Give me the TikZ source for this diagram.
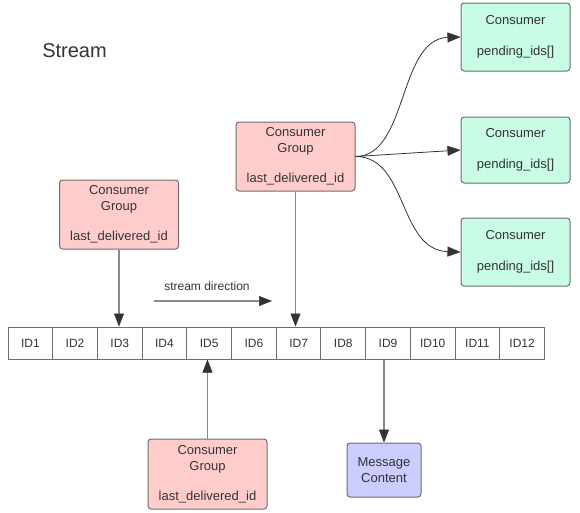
\documentclass[tikz,border=0pt]{standalone}
\usepackage{fontspec}
\setmainfont{Liberation Sans}
\usetikzlibrary{arrows.meta}
\definecolor{txt}{HTML}{333333}
\definecolor{bord}{HTML}{6E6E6E}
\definecolor{pinkf}{HTML}{FFCCCC}
\definecolor{greenf}{HTML}{C8FCE4}
\definecolor{purplef}{HTML}{CCCCFF}
\definecolor{gline}{HTML}{8A8A8A}
\definecolor{dline}{HTML}{333333}
\tikzset{
  box/.style={draw=bord, line width=1pt, rounded corners=3pt, inner sep=0pt,
    align=center, text=txt, font=\fontsize{13}{16}\selectfont},
  cgbox/.style={box, fill=pinkf, minimum width=119pt, minimum height=69pt},
  cbox/.style={box, fill=greenf, minimum width=109pt, minimum height=67pt},
  mbox/.style={box, fill=purplef, minimum width=74pt, minimum height=54pt},
  idcell/.style={draw=bord, line width=1pt, inner sep=0pt, minimum width=44.708pt,
    minimum height=32pt, text=txt, font=\fontsize{12}{14}\selectfont},
  tip/.style={-{Triangle[length=13pt,width=10pt,color=dline,fill=dline,line width=0.5pt]}},
  garrow/.style={draw=gline, line width=1.5pt, tip},
  darrow/.style={draw=dline, line width=0.8pt, tip},
}
\begin{document}
\begin{tikzpicture}[x=1pt, y=-1pt]
\useasboundingbox (0,0) rectangle (580,512);
\node[text=txt, font=\fontsize{20}{24}\selectfont] (title) at (74.5,51) {Stream};

% consumer groups
\node[cgbox] (cg1) at (119,214.5) {Consumer\\Group\\[14.3pt]last\_delivered\_id};
\node[cgbox] (cg2) at (295.5,156.5) {Consumer\\Group\\[14.3pt]last\_delivered\_id};
\node[cgbox, minimum height=70pt] (cg3) at (207.5,474) {Consumer\\Group\\[14.3pt]last\_delivered\_id};

% consumers
\node[cbox, minimum height=68pt] (c1) at (515.5,37) {Consumer\\[15.6pt]pending\_ids[]};
\node[cbox, minimum height=66pt] (c2) at (515.5,150) {Consumer\\[15.6pt]pending\_ids[]};
\node[cbox, minimum height=68pt] (c3) at (515.5,252) {Consumer\\[15.6pt]pending\_ids[]};

% message content
\node[mbox] (mc) at (384,470) {Message\\Content};

% id strip
\foreach \i in {1,...,12}
  \node[idcell] (id\i) at ({8+44.708*(\i-0.5)},343) {ID\i};

% stream direction
\coordinate (sda) at (154,301);
\coordinate (sdb) at (272,301);
\draw[garrow, line width=1.2pt] (sda) -- (sdb);
\node[text=txt, font=\fontsize{12}{14}\selectfont] (sdl) at (207,286) {stream direction};

% connectors
\draw[garrow] (cg1.south) -- (cg1.south |- id3.north);
\draw[garrow] (cg2.south) -- (cg2.south |- id7.north);
\draw[garrow] (cg3.north) -- (cg3.north |- id5.south);
\draw[garrow] (mc.north |- id9.south) -- (mc.north);

\draw[darrow] (cg2.east) .. controls (408,156.5) and (398,39) .. (c1.west);
\draw[darrow] (cg2.east) -- (c2.west);
\draw[darrow] (cg2.east) .. controls (408,156.5) and (398,250) .. (c3.west);
\end{tikzpicture}
\end{document}
